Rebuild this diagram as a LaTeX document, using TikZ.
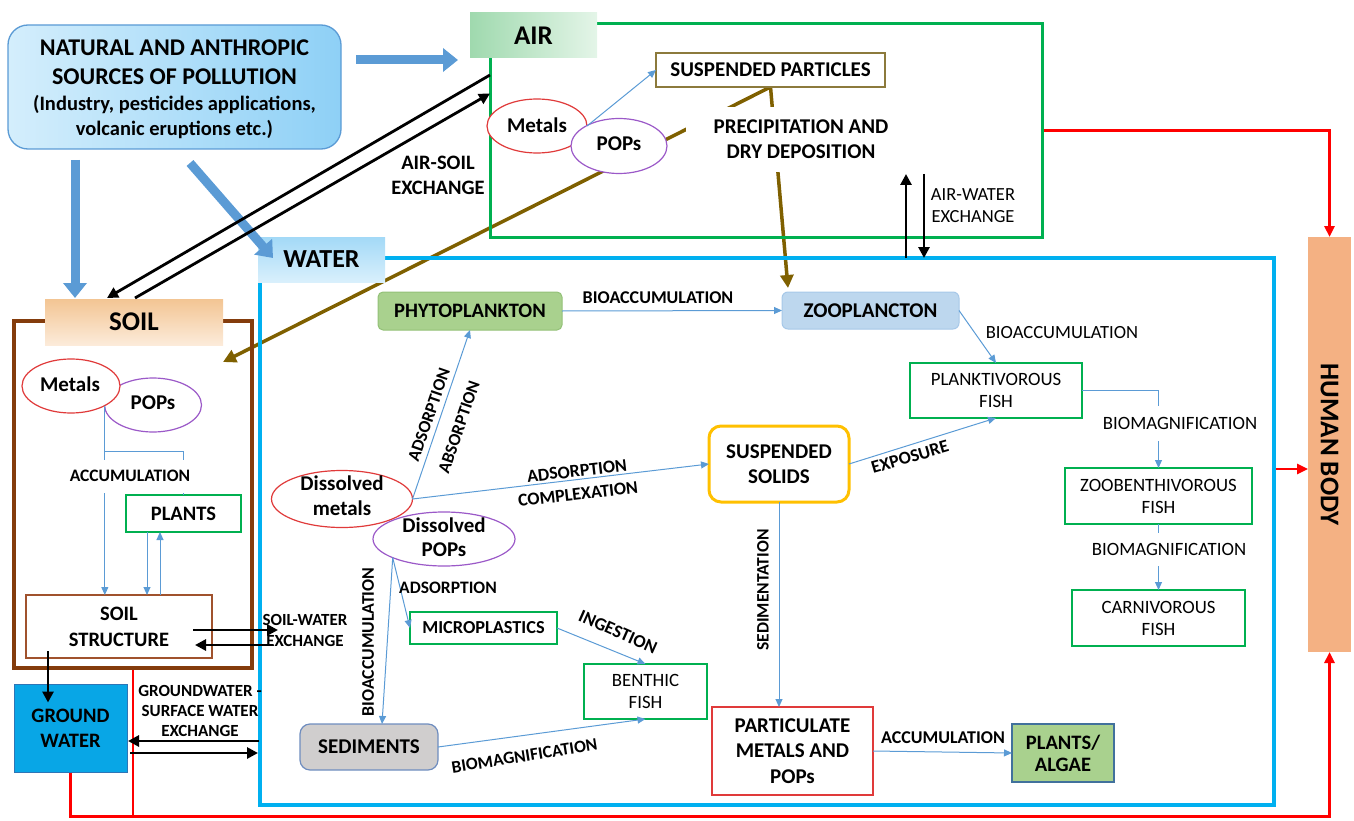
\documentclass[tikz,border=0pt]{standalone}
\usepackage{fontspec}
\setmainfont{Carlito}
\usetikzlibrary{arrows.meta,shapes.geometric}
\pgfdeclarelayer{bg}
\pgfsetlayers{bg,main}
\newcommand{\setfs}[2]{\fontsize{#1}{#2}\selectfont}
\definecolor{cblue}{HTML}{5B9BD5}
\definecolor{cgreen}{HTML}{00B050}
\definecolor{cwater}{HTML}{00B0F0}
\definecolor{csoil}{HTML}{843C0C}
\definecolor{cbrown}{HTML}{7F6000}
\definecolor{cred}{HTML}{FF0000}
\definecolor{cmet}{HTML}{E03A3A}
\definecolor{cpop}{HTML}{9B59C8}
\definecolor{cphyto}{HTML}{A9D18E}
\definecolor{cphytoB}{HTML}{93C177}
\definecolor{czoo}{HTML}{BDD7EE}
\definecolor{czooB}{HTML}{A6C8E8}
\definecolor{corange}{HTML}{FFC000}
\definecolor{csed}{HTML}{D0CECE}
\definecolor{csedB}{HTML}{6F8DBF}
\definecolor{chb}{HTML}{F4B183}
\definecolor{cgw}{HTML}{08A6E6}
\definecolor{cgwB}{HTML}{2E75B6}
\definecolor{csp}{HTML}{8C7A3C}
\definecolor{css}{HTML}{A0522D}
\definecolor{cpaB}{HTML}{41719C}
\definecolor{srcL}{HTML}{D4EEFC}
\definecolor{srcR}{HTML}{8ED0F6}
\definecolor{airL}{HTML}{9FD9AE}
\definecolor{airR}{HTML}{E4F5E8}
\definecolor{waterT}{HTML}{A3D9F7}
\definecolor{waterB}{HTML}{D9F0FC}
\definecolor{soilT}{HTML}{F3C593}
\definecolor{soilB}{HTML}{FCEBDA}
\begin{document}
\begin{tikzpicture}[x=1pt,y=-1pt,
  box/.style={rectangle, inner sep=0pt, outer sep=0pt, align=center},
  ell/.style={ellipse, fill=white, line width=1.2pt, inner sep=0pt, outer sep=0pt},
  big/.style={font=\bfseries\setfs{20.5}{25.5}, align=center, inner sep=0pt},
  ttl/.style={font=\bfseries\setfs{27}{30}, align=center, inner sep=0pt},
  lbl/.style={font=\bfseries\setfs{17.5}{22}, align=center, inner sep=0pt},
  rlbl/.style={font=\setfs{18.5}{22}, align=center, inner sep=0pt},
  fishbox/.style={box, draw=cgreen, line width=1.3pt, font=\setfs{18.8}{22}},
  bl/.style={draw=cblue, line width=1pt},
  blarr/.style={bl, -{Triangle[length=8pt,width=7pt]}},
  blk/.style={draw=black, line width=2.8pt, -{Triangle[length=11pt,width=11pt]}},
  brn/.style={draw=cbrown, line width=3.5pt, -{Triangle[length=13pt,width=13pt]}},
  rd/.style={draw=cred, line width=2.6pt},
  rdarr/.style={rd, -{Triangle[length=11pt,width=10pt]}},
  blockarr/.style={draw=cblue, line width=9pt, -{Triangle[length=15pt,width=23pt]}}
]
\useasboundingbox (0,0) rectangle (1354,821);

% frames
\node[box, draw=cgreen, line width=3pt, minimum width=552pt, minimum height=213pt] (airbox) at (766,130.5) {};
\node[box, draw=cwater, line width=3.2pt, minimum width=1014pt, minimum height=547pt] (waterbox) at (767,531.5) {};
\node[box, draw=csoil, line width=3.5pt, minimum width=238pt, minimum height=347pt] (soilbox) at (133,494.5) {};

% source box
\node[box, draw=cblue, line width=1.3pt, rounded corners=20pt, left color=srcL, right color=srcR, minimum width=333pt, minimum height=124pt] (src) at (174.5,87) {};
\node[font=\bfseries\setfs{24}{29}, align=center, inner sep=0pt] (srct1) at (174.5,62) {NATURAL AND ANTHROPIC\\SOURCES OF POLLUTION};
\node[font=\bfseries\setfs{20.5}{25}, align=center, inner sep=0pt] (srct2) at (174.5,117) {(Industry, pesticides applications,\\volcanic eruptions etc.)};

% compartment labels
\node[box, ttl, left color=airL, right color=airR, minimum width=127pt, minimum height=45pt] (airlbl) at (533.5,35.5) {AIR};
\node[box, font=\bfseries\setfs{26}{30}, top color=waterT, bottom color=waterB, minimum width=127pt, minimum height=45pt] (waterlbl) at (321.5,259.5) {WATER};
\node[box, ttl, top color=soilT, bottom color=soilB, minimum width=178pt, minimum height=46pt] (soillbl) at (134,322) {SOIL};

% air contents
\node[box, draw=csp, line width=1.3pt, fill=white, minimum width=229pt, minimum height=34pt, font=\bfseries\setfs{21}{24}] (sp) at (770.5,70) {SUSPENDED PARTICLES};
\node[ell, draw=cmet, minimum width=100pt, minimum height=54pt] (am) at (537,126) {};
\node[ell, draw=cpop, minimum width=96pt, minimum height=55pt] (ap) at (619,146) {};
\node[big, font=\bfseries\setfs{21}{25}] (amt) at (537,125) {Metals};
\node[big, font=\bfseries\setfs{21}{25}] (apt) at (619,144) {POPs};

% soil contents
\node[ell, draw=cpop, minimum width=97pt, minimum height=54pt] (spp) at (153,405) {};
\node[ell, draw=cmet, minimum width=98pt, minimum height=54pt] (sm) at (71,386) {};
\node[big, font=\bfseries\setfs{21}{25}] (smt) at (70,384) {Metals};
\node[big, font=\bfseries\setfs{21}{25}] (sppt) at (153,403) {POPs};
\node[box, draw=cgreen, line width=1.3pt, fill=white, minimum width=115pt, minimum height=37pt, font=\bfseries\setfs{20.5}{25}] (plants) at (183.5,513.5) {PLANTS};
\node[box, draw=css, line width=1.2pt, fill=white, minimum width=186pt, minimum height=63pt, font=\bfseries\setfs{20.5}{26}] (ss) at (119,626.5) {SOIL\\STRUCTURE};
\node[box, draw=cgwB, line width=1pt, fill=cgw, minimum width=113pt, minimum height=88pt, font=\bfseries\setfs{20.5}{25}] (gw) at (70.5,728.5) {GROUND\\WATER};

% human body
\node[box, fill=chb, minimum width=43pt, minimum height=415pt] (hb) at (1329.5,444.5) {};
\node[ttl, rotate=-90] (hbt) at (hb) {HUMAN BODY};

% water contents
\node[box, draw=cphytoB, line width=1pt, fill=cphyto, rounded corners=5pt, minimum width=184pt, minimum height=38pt, font=\bfseries\setfs{20.5}{25}] (phyto) at (470,311) {PHYTOPLANKTON};
\node[box, draw=czooB, line width=1pt, fill=czoo, rounded corners=6pt, minimum width=177pt, minimum height=37pt, font=\bfseries\setfs{21}{25}] (zoo) at (870.5,310.5) {ZOOPLANCTON};
\node[ell, draw=cmet, minimum width=141pt, minimum height=57pt] (dm) at (342,499) {};
\node[ell, draw=cpop, minimum width=142pt, minimum height=54pt] (dp) at (444,539) {};
\node[big, font=\bfseries\setfs{21}{25}] (dmt) at (342,496) {Dissolved\\metals};
\node[big, font=\bfseries\setfs{21}{24}] (dpt) at (444,537) {Dissolved\\POPs};
\node[box, draw=corange, line width=3pt, fill=white, rounded corners=12pt, minimum width=140pt, minimum height=76pt, font=\bfseries\setfs{21}{25}] (susp) at (779,464) {SUSPENDED\\SOLIDS};
\node[fishbox, minimum width=172pt, minimum height=55pt] (pf) at (996,390.5) {PLANKTIVOROUS\\FISH};
\node[fishbox, minimum width=187pt, minimum height=56pt] (zb) at (1158.5,496) {ZOOBENTHIVOROUS\\FISH};
\node[fishbox, minimum width=173pt, minimum height=56pt] (cf) at (1158.5,618) {CARNIVOROUS\\FISH};
\node[box, draw=cgreen, line width=1.3pt, minimum width=147pt, minimum height=32pt, font=\bfseries\setfs{18.3}{22}] (mp) at (483.5,628) {MICROPLASTICS};
\node[fishbox, minimum width=123pt, minimum height=55pt] (bf) at (645.5,691.5) {BENTHIC\\FISH};
\node[box, draw=csedB, line width=1.2pt, fill=csed, rounded corners=10pt, minimum width=138pt, minimum height=46pt, font=\bfseries\setfs{21}{25}] (sed) at (369,747) {SEDIMENTS};
\node[box, draw=cmet, line width=1.3pt, minimum width=161pt, minimum height=88pt, font=\bfseries\setfs{21}{25.5}] (pm) at (792.5,751) {PARTICULATE\\METALS AND\\POPs};
\node[box, draw=cpaB, line width=1.2pt, fill=cphyto, minimum width=102pt, minimum height=58pt, font=\bfseries\setfs{20.5}{22}] (pa) at (1063,753) {PLANTS/\\ALGAE};

% background connectors: brown and red
\begin{pgfonlayer}{bg}
\draw[brn] (sp.south) -- ([shift={(6,-4)}]zoo.north west);
\draw[brn] (sp.south) -- ([shift={(-29,41)}]soilbox.north east);
\draw[rdarr] (airbox.east) -| (hb.north);
\draw[rdarr] ([yshift=62.5pt]waterbox.east) -- ([yshift=-24.5pt]hb.west);
\draw[rdarr] (gw.south) -- ++(0,44) coordinate (rbl) -| (hb.south);
\draw[rd] (soilbox.south) -- (soilbox.south |- rbl);
\end{pgfonlayer}

% block arrows from sources
\draw[blockarr] ([shift={(15,-27)}]src.east) -- ([shift={(-12,24.5)}]airlbl.west);
\draw[blockarr] ([shift={(67,11)}]src.south west) -- ([shift={(30,-1)}]soillbl.north west);
\draw[blockarr] ([shift={(182,14)}]src.south west) -- ([shift={(15,21)}]waterlbl.north west);

% air-soil exchange
\draw[blk] ([shift={(0,-55.5)}]airbox.west) -- ([shift={(62,-1)}]soillbl.north west);
\draw[blk] ([shift={(90,-1)}]soillbl.north west) -- ([shift={(0,-37)}]airbox.west);
\node[lbl, font=\bfseries\setfs{20.5}{25}] (airsoil) at (438,175) {AIR-SOIL\\EXCHANGE};

% air-water exchange
\draw[blk] ([xshift=139pt]waterbox.north) -- ++(0,-84);
\draw[blk] ([shift={(157,-84)}]waterbox.north) -- ([xshift=157pt]waterbox.north);
\node[rlbl, font=\setfs{18.5}{22}] (awx) at (973,206) {AIR-WATER\\EXCHANGE};

% air internal
\draw[blarr] (am.east) -- (sp.west);
\node[lbl, fill=white, font=\bfseries\setfs{21}{25}, minimum width=230pt, minimum height=65pt] (prec) at (801,139.5) {PRECIPITATION AND\\DRY DEPOSITION};

% soil internal
\coordinate (accj) at (183.5,451);
\draw[bl] (sm.-30) |- (accj) -- (plants.north);
\draw[blarr] (sm.-30) -- (sm.-30 |- ss.north);
\draw[blarr] ([xshift=-36.5pt]plants.south) -- ([xshift=28pt]ss.north);
\draw[blarr] ([xshift=41pt]ss.north) -- ([xshift=-23.5pt]plants.south);
\node[lbl, fill=white, minimum width=145pt, minimum height=33pt] (accsoil) at (130,476) {ACCUMULATION};

% soil-water and groundwater exchanges
\draw[blk] ([shift={(-19,3.5)}]ss.east) -- ([shift={(18,98.5)}]waterbox.west);
\draw[blk] ([shift={(13,113.5)}]waterbox.west) -- ([shift={(-17,18.5)}]ss.east);
\node[lbl, font=\bfseries\setfs{17}{21}] (swx) at (305,630) {SOIL-WATER\\EXCHANGE};
\draw[blk] ([shift={(22,-7)}]ss.south west) -- ([shift={(34,18)}]gw.north west);
\draw[blk] ([shift={(-1,209.5)}]waterbox.west) -- ([shift={(1,12.5)}]gw.east);
\draw[blk] ([shift={(3,24.5)}]gw.east) -- ([shift={(-2,221.5)}]waterbox.west);
\node[lbl, font=\bfseries\setfs{17}{20}] (gwx) at (200,711) {GROUNDWATER -\\SURFACE WATER\\EXCHANGE};

% water internal connectors
\draw[blarr] (phyto.east) -- (zoo.west);
\node[lbl, font=\bfseries\setfs{18}{22}] (bioacc1) at (658,298) {BIOACCUMULATION};
\draw[blarr] (dm.east) -- (phyto.south);
\node[lbl, rotate=71] (adsA) at (429,415) {ADSORPTION};
\node[lbl, rotate=71] (absA) at (459,427) {ABSORPTION};
\draw[blarr] (dm.east) -- (susp.west);
\node[lbl, font=\bfseries\setfs{18}{22}, rotate=6.5] (adsB) at (577,471) {ADSORPTION};
\node[lbl, font=\bfseries\setfs{18}{22}, rotate=6.5] (cmpx) at (578,494) {COMPLEXATION};
\draw[blarr] (susp.east) -- (pf.south);
\node[lbl, font=\bfseries\setfs{18}{22}, rotate=16.4] (expo) at (910,457) {EXPOSURE};
\draw[blarr] (zoo.east) -- (pf.north);
\node[rlbl, font=\setfs{18.6}{22}] (bioacc3) at (1062,333) {BIOACCUMULATION};
\draw[blarr] (pf.east) -| (zb.north);
\node[rlbl, fill=white, font=\setfs{18.8}{22}, minimum width=165pt, minimum height=35pt] (biomag1) at (1180,423) {BIOMAGNIFICATION};
\draw[blarr] (zb.south) -- (cf.north);
\node[rlbl, fill=white, font=\setfs{18.8}{22}, minimum width=165pt, minimum height=33pt] (biomag2) at (1169,549.5) {BIOMAGNIFICATION};
\draw[blarr] (susp.south) -- (susp.south |- pm.north);
\node[lbl, rotate=90] (sedim) at (763,590) {SEDIMENTATION};
\draw[blarr] (pm.east) -- (pa.west);
\node[lbl, font=\bfseries\setfs{18}{22}] (acc2) at (943,738) {ACCUMULATION};
\draw[blarr] (dp.200) -- (mp.west);
\node[lbl] (adsC) at (448,588) {ADSORPTION};
\draw[blarr] (dp.200) -- ([xshift=13pt]sed.north);
\node[lbl, font=\bfseries\setfs{17.8}{22}, rotate=90] (bioacc2) at (368,642) {BIOACCUMULATION};
\draw[blarr] (mp.east) -- (bf.north);
\node[lbl, font=\bfseries\setfs{18.2}{22}, rotate=-24] (ingest) at (618,632) {INGESTION};
\draw[blarr] (sed.east) -- (bf.south);
\node[lbl, font=\bfseries\setfs{17.5}{22}, rotate=9] (biomag3) at (524.5,756) {BIOMAGNIFICATION};
\end{tikzpicture}
\end{document}
